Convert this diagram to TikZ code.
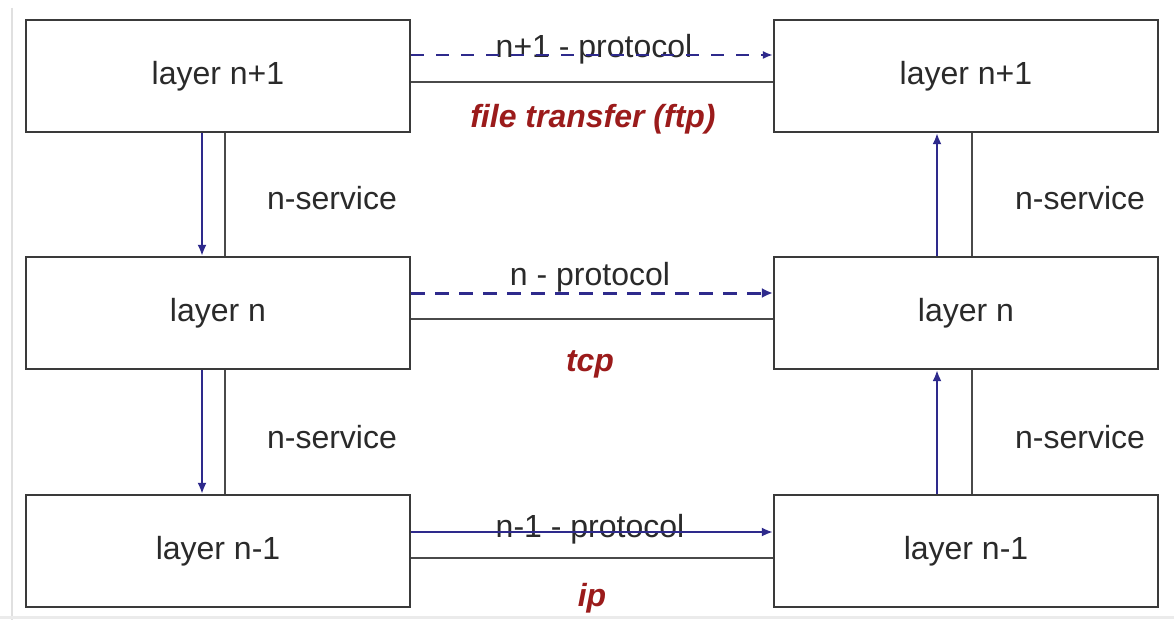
\documentclass[tikz,border=0pt]{standalone}
\usepackage{fontspec}
\setmainfont{Liberation Sans}
\usetikzlibrary{arrows.meta}
\definecolor{boxline}{HTML}{3A3A3A}
\definecolor{conn}{HTML}{4A4A4A}
\definecolor{navy}{HTML}{2E2A8C}
\definecolor{darkred}{HTML}{9B1B1B}
\definecolor{txt}{HTML}{2A2A2A}
\begin{document}
\begin{tikzpicture}[x=1pt,y=-1pt,
  box/.style={draw=boxline,line width=2.2pt,minimum width=384pt,minimum height=112pt,inner sep=0pt,
     font=\fontsize{32}{38}\selectfont,text=txt},
  lbl/.style={font=\fontsize{32}{38}\selectfont,text=txt,inner sep=0pt},
  red/.style={font=\fontsize{32}{38}\selectfont\bfseries\itshape,text=darkred,inner sep=0pt},
  gline/.style={draw=conn,line width=1.8pt},
  blarrow/.style={draw=navy,line width=2.4pt,-{Latex[length=11pt,width=9pt]}},
  dashtop/.style={draw=navy,line width=2.4pt,dash pattern=on 13pt off 12pt,-{Latex[length=10pt,width=8pt]}},
  dashmid/.style={draw=navy,line width=3pt,dash pattern=on 14pt off 10pt,-{Latex[length=11pt,width=10pt]}}
]
\useasboundingbox (0,0) rectangle (1174,620);
\fill[white] (0,0) rectangle (1174,620);
% faint screenshot edges
\draw[black!12,line width=1.5pt] (12,8) -- (12,620);
\draw[black!8,line width=3pt] (0,617) -- (1174,617);

% boxes
\node[box] (L1) at (218,76) {layer n+1};
\node[box] (L2) at (218,313) {layer n};
\node[box] (L3) at (218,551) {layer n-1};
\node[box] (R1) at (966,76) {layer n+1};
\node[box] (R2) at (966,313) {layer n};
\node[box] (R3) at (966,551) {layer n-1};

% helper coordinates
\coordinate (h1a) at (0,55);
\coordinate (h1b) at (0,82);
\coordinate (h2a) at (0,293);
\coordinate (h2b) at (0,319);
\coordinate (h3a) at (0,532);
\coordinate (h3b) at (0,558);
\coordinate (vx1) at (202,0);
\coordinate (vx2) at (225,0);
\coordinate (vx3) at (937,0);
\coordinate (vx4) at (972,0);

% protocol labels
\node[lbl,anchor=base] (p1) at (594,58) {n+1 - protocol};
\node[lbl,anchor=base] (p2) at (590,285) {n - protocol};
\node[lbl,anchor=base] (p3) at (590,537) {n-1 - protocol};
\node[red,anchor=base] (f1) at (593,128) {file transfer (ftp)};
\node[red,anchor=base] (f2) at (590,371) {tcp};
\node[red,anchor=base] (f3) at (592,606) {ip};

% horizontal connectors
\draw[dashtop] (L1.east |- h1a) -- (R1.west |- h1a);
\draw[gline] (L1.east |- h1b) -- (R1.west |- h1b);
\draw[dashmid] (L2.east |- h2a) -- (R2.west |- h2a);
\draw[gline] (L2.east |- h2b) -- (R2.west |- h2b);
\draw[blarrow] (L3.east |- h3a) -- (R3.west |- h3a);
\draw[gline] (L3.east |- h3b) -- (R3.west |- h3b);

% vertical connectors left
\draw[blarrow] (L1.south -| vx1) -- (L2.north -| vx1);
\draw[gline] (L1.south -| vx2) -- (L2.north -| vx2);
\draw[blarrow] (L2.south -| vx1) -- (L3.north -| vx1);
\draw[gline] (L2.south -| vx2) -- (L3.north -| vx2);
% vertical connectors right
\draw[blarrow] (R2.north -| vx3) -- (R1.south -| vx3);
\draw[gline] (R2.north -| vx4) -- (R1.south -| vx4);
\draw[blarrow] (R3.north -| vx3) -- (R2.south -| vx3);
\draw[gline] (R3.north -| vx4) -- (R2.south -| vx4);

% service labels
\node[lbl,anchor=base] (s1) at (332,210) {n-service};
\node[lbl,anchor=base] (s2) at (332,448) {n-service};
\node[lbl,anchor=base] (s3) at (1080,210) {n-service};
\node[lbl,anchor=base] (s4) at (1080,448) {n-service};
\end{tikzpicture}
\end{document}
